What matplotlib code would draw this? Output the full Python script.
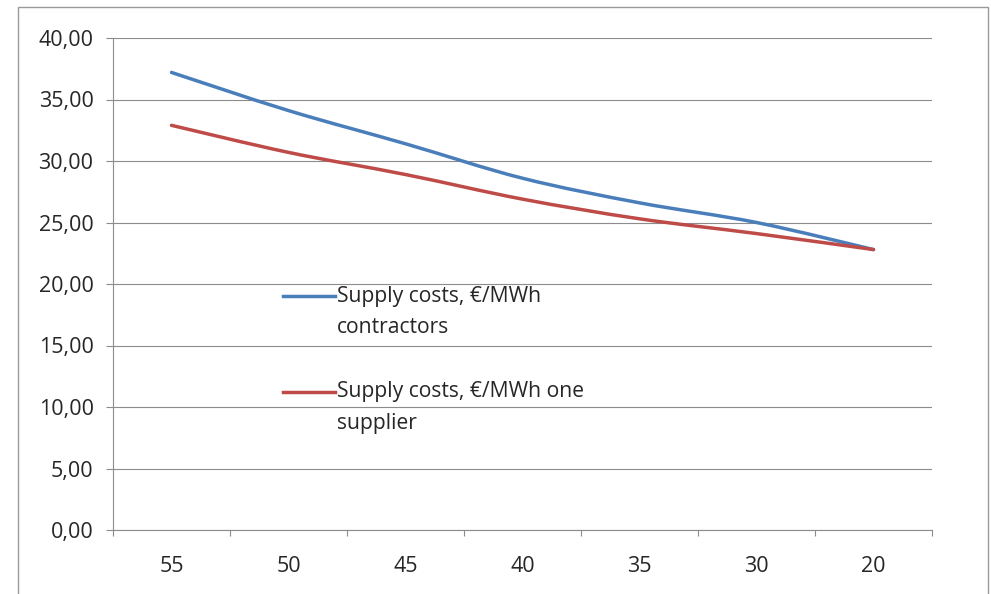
import matplotlib
matplotlib.use("Agg")
import numpy as np
import matplotlib.pyplot as plt
from matplotlib.path import Path
from matplotlib.patches import PathPatch, Rectangle
from matplotlib.lines import Line2D
from matplotlib.ticker import FuncFormatter, FixedLocator

# supply costs by share (categories read left to right)
categories = ["55", "50", "45", "40", "35", "30", "20"]
contractors = [37.2, 34.1, 31.4, 28.6, 26.6, 25.0, 22.8]
one_supplier = [32.9, 30.7, 28.9, 26.9, 25.3, 24.1, 22.8]

BLUE = "#4A7EBB"
RED = "#BE4B48"
GRID = "#8C8C8C"
TXT = "#262626"

plt.rcParams['font.family'] = ['Open Sans', 'DejaVu Sans']


def smooth_path(x, y):
    # cubic bezier through the points, like a spreadsheet "smoothed line"
    x = np.asarray(x, float)
    y = np.asarray(y, float)
    n = len(x)
    verts = [(x[0], y[0])]
    codes = [Path.MOVETO]
    for i in range(n - 1):
        x0, y0 = (x[i - 1], y[i - 1]) if i > 0 else (x[i], y[i])
        x3, y3 = (x[i + 2], y[i + 2]) if i + 2 < n else (x[i + 1], y[i + 1])
        c1 = (x[i] + (x[i + 1] - x0) / 6.0, y[i] + (y[i + 1] - y0) / 6.0)
        c2 = (x[i + 1] - (x3 - x[i]) / 6.0, y[i + 1] - (y3 - y[i]) / 6.0)
        verts += [c1, c2, (x[i + 1], y[i + 1])]
        codes += [Path.CURVE4] * 3
    return Path(verts, codes)


fig = plt.figure(figsize=(9.91, 5.94), dpi=100)
ax = fig.add_axes([113 / 991, 1 - 530 / 594, 819 / 991, 492 / 594])

# outer chart frame
fig.patches.append(Rectangle((18 / 991, -0.1), 970 / 991, 1.1 - 7 / 594,
                             transform=fig.transFigure, fill=False,
                             edgecolor="#9A9A9A", linewidth=1.0))

xs = np.arange(len(categories))
for vals, col in [(contractors, BLUE), (one_supplier, RED)]:
    ax.add_patch(PathPatch(smooth_path(xs, vals), fill=False, edgecolor=col,
                           linewidth=2.5, capstyle='round', zorder=3))

ax.set_xlim(-0.5, len(categories) - 0.5)
ax.set_ylim(0, 40)
ax.set_yticks(np.arange(0, 41, 5))
ax.yaxis.set_major_formatter(FuncFormatter(lambda v, p: f"{v:.2f}".replace(".", ",")))
ax.set_xticks(xs)
ax.set_xticklabels(categories)
ax.xaxis.set_minor_locator(FixedLocator(np.arange(-0.5, len(categories), 1.0)))

ax.grid(axis='y', color=GRID, linewidth=0.8)
ax.set_axisbelow(True)
for s in ['top', 'right']:
    ax.spines[s].set_visible(False)
for s in ['left', 'bottom']:
    ax.spines[s].set_color(GRID)
    ax.spines[s].set_linewidth(0.8)

ax.tick_params(axis='y', length=5, width=0.8, color=GRID, pad=9,
               labelsize=15.5, labelcolor=TXT)
ax.tick_params(axis='x', which='major', length=0, pad=19,
               labelsize=15.5, labelcolor=TXT)
ax.tick_params(axis='x', which='minor', length=4, width=0.8, color=GRID)

# legend drawn inside the plot area
entries = [(BLUE, "Supply costs, \u20ac/MWh", "contractors", 0.4756),
           (RED, "Supply costs, \u20ac/MWh one", "supplier", 0.2805)]
for col, line1, line2, yy in entries:
    ax.add_line(Line2D([0.2076, 0.271], [yy, yy], transform=ax.transAxes,
                       color=col, linewidth=2.5, zorder=4))
    ax.text(0.2735, yy, line1, transform=ax.transAxes, fontsize=15.2,
            color=TXT, va='center', ha='left', zorder=4)
    ax.text(0.2735, yy - 0.065, line2, transform=ax.transAxes, fontsize=15.2,
            color=TXT, va='center', ha='left', zorder=4)

fig.savefig("out.png", dpi=100)
